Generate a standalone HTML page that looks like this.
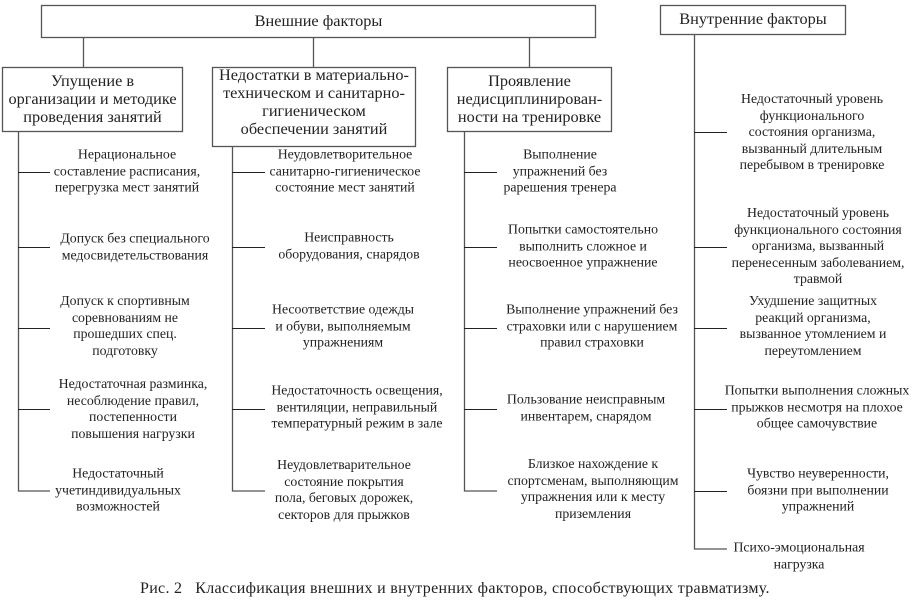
<!DOCTYPE html>
<html><head><meta charset="utf-8"><style>
body{margin:0;width:917px;height:601px;background:#fff;position:relative;overflow:hidden;font-family:"Liberation Serif","DejaVu Serif","Noto Serif CJK SC",serif;color:#222}
.t{position:absolute;text-align:center;font-size:13.8px;line-height:16.5px;transform:translate(-50%,-50%);white-space:nowrap;font-family:"Liberation Serif","DejaVu Serif","Noto Serif CJK SC",serif}
.h{position:absolute;text-align:center;font-size:16.3px;line-height:18px;white-space:nowrap;font-family:"Liberation Serif","DejaVu Serif","Noto Serif CJK SC",serif}
svg{position:absolute;left:0;top:0}
</style></head><body>
<svg width="917" height="601">
<g fill="none" stroke="#555" stroke-width="1.3">
<rect x="41.5" y="5.5" width="554" height="32"/>
<rect x="660.5" y="5.5" width="185" height="29"/>
<rect x="2.5" y="67.5" width="180" height="64"/>
<rect x="212.5" y="67.5" width="203" height="79"/>
<rect x="447.5" y="67.5" width="164" height="64"/>
<line x1="83.5" y1="38" x2="83.5" y2="67"/>
<line x1="313.5" y1="38" x2="313.5" y2="67"/>
<line x1="529.5" y1="38" x2="529.5" y2="67"/>
<polyline points="18.5,131 18.5,491 50,491"/>
<polyline points="232.5,146 232.5,491 265,491"/>
<polyline points="464.5,131 464.5,491 497,491"/>
<polyline points="694.5,34 694.5,549 727,549"/>
</g>
<g stroke="#222" stroke-width="1">
<line x1="18" y1="172.5" x2="50" y2="172.5"/><line x1="18" y1="247.5" x2="50" y2="247.5"/><line x1="18" y1="328.5" x2="50" y2="328.5"/><line x1="18" y1="409.5" x2="50" y2="409.5"/>
<line x1="232" y1="172.5" x2="265" y2="172.5"/><line x1="232" y1="247.5" x2="265" y2="247.5"/><line x1="232" y1="328.5" x2="265" y2="328.5"/><line x1="232" y1="409.5" x2="265" y2="409.5"/>
<line x1="464" y1="172.5" x2="497" y2="172.5"/><line x1="464" y1="247.5" x2="497" y2="247.5"/><line x1="464" y1="328.5" x2="497" y2="328.5"/><line x1="464" y1="409.5" x2="497" y2="409.5"/>
<line x1="694" y1="132.5" x2="727" y2="132.5"/><line x1="694" y1="247.5" x2="727" y2="247.5"/><line x1="694" y1="328.5" x2="727" y2="328.5"/><line x1="694" y1="409.5" x2="727" y2="409.5"/><line x1="694" y1="491.5" x2="727" y2="491.5"/>
</g>
</svg>
<div class="h" style="left:41px;width:555px;top:12px">Внешние факторы</div>
<div class="h" style="left:660px;width:186px;top:10px">Внутренние факторы</div>
<div class="h" style="left:2px;width:181px;top:72px">Упущение в<br>организации и методике<br>проведения занятий</div>
<div class="h" style="left:212px;width:204px;top:66px">Недостатки в материально-<br>техническом и санитарно-<br>гигиеническом<br>обеспечении занятий</div>
<div class="h" style="left:447px;width:165px;top:72px">Проявление<br>недисциплинирован-<br>ности на тренировке</div>

<div class="t" style="left:127px;top:171px">Нерациональное<br>составление расписания,<br>перегрузка мест занятий</div>
<div class="t" style="left:135px;top:247px">Допуск без специального<br>медосвидетельствования</div>
<div class="t" style="left:125px;top:326px">Допуск к спортивным<br>соревнованиям не<br>прошедших спец.<br>подготовку</div>
<div class="t" style="left:133px;top:409px">Недостаточная разминка,<br>несоблюдение правил,<br>постепенности<br>повышения нагрузки</div>
<div class="t" style="left:118px;top:490px">Недостаточный<br>учетиндивидуальных<br>возможностей</div>

<div class="t" style="left:345px;top:171px">Неудовлетворительное<br>санитарно-гигиеническое<br>состояние мест занятий</div>
<div class="t" style="left:349px;top:246px">Неисправность<br>оборудования, снарядов</div>
<div class="t" style="left:343px;top:326px">Несоответствие одежды<br>и обуви, выполняемым<br>упражнениям</div>
<div class="t" style="left:357px;top:407px">Недостаточность освещения,<br>вентиляции, неправильный<br>температурный режим в зале</div>
<div class="t" style="left:344px;top:490px">Неудовлетварительное<br>состояние покрытия<br>пола, беговых дорожек,<br>секторов для прыжков</div>

<div class="t" style="left:560px;top:171px">Выполнение<br>упражнений без<br>рарешения тренера</div>
<div class="t" style="left:583px;top:246px">Попытки самостоятельно<br>выполнить сложное и<br>неосвоенное упражнение</div>
<div class="t" style="left:592px;top:326px">Выполнение упражнений без<br>страховки или с нарушением<br>правил страховки</div>
<div class="t" style="left:586px;top:408px">Пользование неисправным<br>инвентарем, снарядом</div>
<div class="t" style="left:593px;top:489px">Близкое нахождение к<br>спортсменам, выполняющим<br>упражнения или к месту<br>приземления</div>

<div class="t" style="left:812px;top:132px">Недостаточный уровень<br>функционального<br>состояния организма,<br>вызванный длительным<br>перебывом в тренировке</div>
<div class="t" style="left:818px;top:246px">Недостаточный уровень<br>функционального состояния<br>организма, вызванный<br>перенесенным заболеванием,<br>травмой</div>
<div class="t" style="left:813px;top:326px">Ухудшение защитных<br>реакций организма,<br>вызванное утомлением и<br>переутомлением</div>
<div class="t" style="left:817px;top:407px">Попытки выполнения сложных<br>прыжков несмотря на плохое<br>общее самочувствие</div>
<div class="t" style="left:818px;top:490px">Чувство неуверенности,<br>боязни при выполнении<br>упражнений</div>
<div class="t" style="left:799px;top:556px">Психо-эмоциональная<br>нагрузка</div>

<div style="position:absolute;left:140px;top:580px;font-size:16px;letter-spacing:0.3px;white-space:nowrap;font-family:'Liberation Serif','DejaVu Serif',serif">Рис. 2&nbsp;&nbsp; Классификация внешних и внутренних факторов, способствующих травматизму.</div>
</body></html>
